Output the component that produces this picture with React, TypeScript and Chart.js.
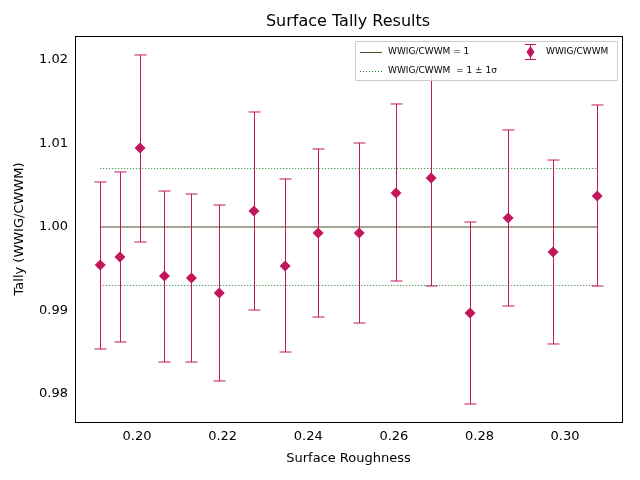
import React, { useEffect, useRef } from "react";
import { Chart, registerables } from "chart.js";
Chart.register(...registerables);

const roughness = [0.1914, 0.196, 0.2007, 0.2064, 0.2127, 0.2192, 0.2273, 0.2346, 0.2423, 0.2519, 0.2605, 0.2687, 0.2778, 0.2867, 0.2972, 0.3075];
const tally = [0.99545, 0.99641, 1.00946, 0.99413, 0.99389, 0.9921, 1.00192, 0.99533, 0.99928, 0.99928, 1.00407, 1.00587, 0.9897, 1.00108, 0.99701, 1.00371];
const upper = [1.00539, 1.00659, 1.0206, 1.00431, 1.00395, 1.00263, 1.01377, 1.00575, 1.00934, 1.01006, 1.01473, 1.0188, 1.0006, 1.01162, 1.00802, 1.01461];
const lower = [0.98539, 0.98623, 0.9982, 0.98383, 0.98383, 0.98156, 0.99006, 0.98503, 0.98922, 0.9885, 0.99353, 0.99293, 0.9788, 0.99054, 0.98599, 0.99293];
const sigmaHi = 1.007;
const sigmaLo = 0.993;
const xTicks = [0.2, 0.22, 0.24, 0.26, 0.28, 0.3];
const yTicks = [0.98, 0.99, 1.0, 1.01, 1.02];

const RED = "#c2185b";
const FONT = "DejaVu Sans";

export default function App() {
  const ref = useRef<HTMLCanvasElement>(null);
  useEffect(() => {
    const x0 = roughness[0], x1 = roughness[roughness.length - 1];
    const plugin = {
      id: "extras",
      afterDatasetsDraw(chart: any) {
        const { ctx, scales, chartArea } = chart;
        const xs = scales.x, ys = scales.y;
        ctx.save();
        ctx.strokeStyle = RED;
        ctx.lineWidth = 1;
        roughness.forEach((r, i) => {
          const px = Math.round(xs.getPixelForValue(r)) + 0.5;
          const t = ys.getPixelForValue(upper[i]);
          const b = ys.getPixelForValue(lower[i]);
          ctx.beginPath();
          ctx.moveTo(px, t); ctx.lineTo(px, b);
          ctx.moveTo(px - 6, t); ctx.lineTo(px + 6, t);
          ctx.moveTo(px - 6, b); ctx.lineTo(px + 6, b);
          ctx.stroke();
        });
        ctx.strokeStyle = "#000";
        ctx.strokeRect(Math.round(chartArea.left) + 0.5, Math.round(chartArea.top) + 0.5, Math.round(chartArea.right - chartArea.left), Math.round(chartArea.bottom - chartArea.top));
        ctx.restore();
      },
      afterDraw(chart: any) {
        const { ctx } = chart;
        ctx.save();
        ctx.fillStyle = "#000";
        ctx.font = `16px ${FONT}`;
        ctx.textAlign = "center";
        ctx.textBaseline = "middle";
        ctx.fillText("Surface Tally Results", 348, 22);
        ctx.fillStyle = "rgba(255,255,255,0.85)";
        ctx.strokeStyle = "#ccc";
        ctx.lineWidth = 1;
        ctx.beginPath();
        ctx.rect(355.5, 41.5, 262, 39);
        ctx.fill(); ctx.stroke();
        ctx.font = `9px ${FONT}`;
        ctx.textAlign = "left";
        ctx.fillStyle = "#000";
        ctx.strokeStyle = "#3f4f2a";
        ctx.beginPath(); ctx.moveTo(360, 52.5); ctx.lineTo(382, 52.5); ctx.stroke();
        ctx.fillText("WWIG/CWWM = 1", 388, 52);
        ctx.strokeStyle = "#1a7a1a";
        ctx.setLineDash([1, 2]);
        ctx.beginPath(); ctx.moveTo(360, 71.5); ctx.lineTo(382, 71.5); ctx.stroke();
        ctx.setLineDash([]);
        ctx.fillText("WWIG/CWWM  = 1 ± 1σ", 388, 71);
        ctx.strokeStyle = RED;
        ctx.fillStyle = RED;
        ctx.beginPath(); ctx.moveTo(530.5, 44); ctx.lineTo(530.5, 60);
        ctx.moveTo(525, 44.5); ctx.lineTo(536, 44.5); ctx.moveTo(525, 59.5); ctx.lineTo(536, 59.5); ctx.stroke();
        ctx.beginPath(); ctx.moveTo(530.5, 46); ctx.lineTo(534.5, 52); ctx.lineTo(530.5, 58); ctx.lineTo(526.5, 52); ctx.closePath(); ctx.fill();
        ctx.fillStyle = "#000";
        ctx.fillText("WWIG/CWWM", 546, 52);
        ctx.restore();
      },
    };
    const chart = new Chart(ref.current!, {
      type: "scatter",
      data: {
        datasets: [
          { data: roughness.map((r, i) => ({ x: r, y: tally[i] })), pointStyle: "rectRot", pointRadius: 5.5, backgroundColor: RED, borderColor: RED, borderWidth: 0, order: 0 },
          { type: "line", data: [{ x: x0, y: 1 }, { x: x1, y: 1 }], borderColor: "#3f4f2a", borderWidth: 1, pointRadius: 0, order: 2 },
          { type: "line", data: [{ x: x0, y: sigmaHi }, { x: x1, y: sigmaHi }], borderColor: "#1a7a1a", borderWidth: 1, borderDash: [1, 2], pointRadius: 0, order: 2 },
          { type: "line", data: [{ x: x0, y: sigmaLo }, { x: x1, y: sigmaLo }], borderColor: "#1a7a1a", borderWidth: 1, borderDash: [1, 2], pointRadius: 0, order: 2 },
        ],
      } as any,
      options: {
        animation: false,
        responsive: false,
        devicePixelRatio: 1,
        layout: { padding: { top: 36, right: 18, left: 12, bottom: 14 } },
        plugins: { legend: { display: false }, tooltip: { enabled: false } },
        scales: {
          x: {
            type: "linear", min: 0.1855, max: 0.3133,
            afterBuildTicks: (s: any) => { s.ticks = xTicks.map((v) => ({ value: v })); },
            afterFit: (s: any) => { s.height = 44; },
            grid: { display: false, tickLength: 4, tickColor: "#000" } as any,
            border: { color: "#000" },
            ticks: { color: "#000", font: { family: FONT, size: 13 }, callback: (v: any) => Number(v).toFixed(2), maxRotation: 0 },
            title: { display: true, text: "Surface Roughness", color: "#000", font: { family: FONT, size: 13 }, padding: 0 },
          },
          y: {
            type: "linear", min: 0.97665, max: 1.02287,
            afterBuildTicks: (s: any) => { s.ticks = yTicks.map((v) => ({ value: v })); },
            afterFit: (s: any) => { s.width = 63; },
            grid: { display: false, tickLength: 4, tickColor: "#000" } as any,
            border: { color: "#000" },
            ticks: { color: "#000", font: { family: FONT, size: 13 }, callback: (v: any) => Number(v).toFixed(2) },
            title: { display: true, text: "Tally (WWIG/CWWM)", color: "#000", font: { family: FONT, size: 13 }, padding: 0 },
          },
        },
      } as any,
      plugins: [plugin],
    });
    return () => chart.destroy();
  }, []);
  return (
    <div style={{ position: "fixed", left: 0, top: 0, width: 640, height: 480, background: "#fff" }}>
      <canvas ref={ref} width={640} height={480} />
    </div>
  );
}
